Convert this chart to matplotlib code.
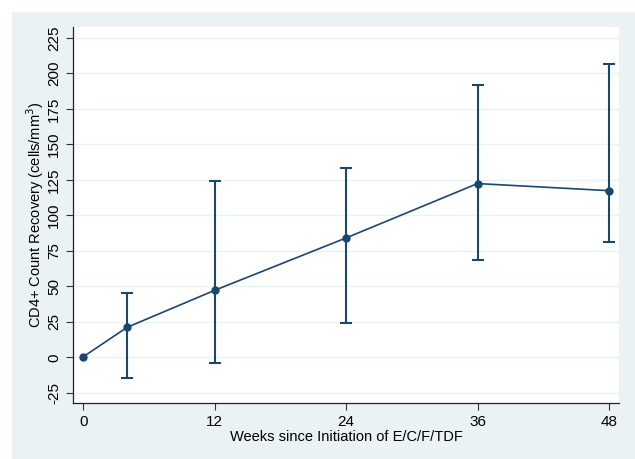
import matplotlib
matplotlib.use("Agg")
import matplotlib.pyplot as plt
from matplotlib.patches import Rectangle

weeks = [0, 4, 12, 24, 36, 48]
recovery = [0.4, 21.1, 47.2, 84.1, 122.4, 117.4]
lower = [0.4, -14.4, -4.0, 23.9, 68.8, 81.0]
upper = [0.4, 45.1, 124.0, 133.2, 192.1, 206.4]
y_ticks = [-25, 0, 25, 50, 75, 100, 125, 150, 175, 200, 225]
x_ticks = [0, 12, 24, 36, 48]

plt.rcParams['font.family'] = ['Liberation Sans', 'DejaVu Sans']
navy = '#1a476f'
bg = '#eaf2f3'

fig = plt.figure(figsize=(6.35, 4.59), dpi=100, facecolor='white')
fig.patches.append(Rectangle((12 / 635, 0), 1, 1 - 12 / 459,
                             transform=fig.transFigure, facecolor=bg,
                             edgecolor='none', zorder=-10))

ax = fig.add_axes([73 / 635, 1 - 403 / 459, (619 - 73) / 635, (403 - 27) / 459])
ax.set_facecolor('white')

err_lo = [r - l for r, l in zip(recovery, lower)]
err_hi = [u - r for r, u in zip(recovery, upper)]
ax.errorbar(weeks[1:], recovery[1:], yerr=[err_lo[1:], err_hi[1:]], fmt='none',
            ecolor=navy, elinewidth=1.5, capsize=4, capthick=1.5, zorder=3)
ax.plot(weeks, recovery, color=navy, lw=1.2, marker='o', ms=5, zorder=4)

ax.set_xlim(-0.94, 48.92)
ax.set_ylim(-32.2, 232.7)
ax.set_xticks(x_ticks)
ax.set_yticks(y_ticks)
ax.set_yticklabels([str(t) for t in y_ticks], rotation=90, va='center')
ax.tick_params(labelsize=11, length=5, width=0.8, color='#333333')
ax.grid(axis='y', color=bg, lw=1)
ax.set_axisbelow(True)
for s in ['top', 'right']:
    ax.spines[s].set_visible(False)
for s in ['left', 'bottom']:
    ax.spines[s].set_linewidth(0.9)
    ax.spines[s].set_color('#222222')

ax.set_xlabel('Weeks since Initiation of E/C/F/TDF', fontsize=10.5, labelpad=1)
ax.set_ylabel('CD4+ Count Recovery (cells/mm$^3$)', fontsize=10.5, labelpad=1)

fig.savefig('out.png', dpi=100, facecolor=fig.get_facecolor())
